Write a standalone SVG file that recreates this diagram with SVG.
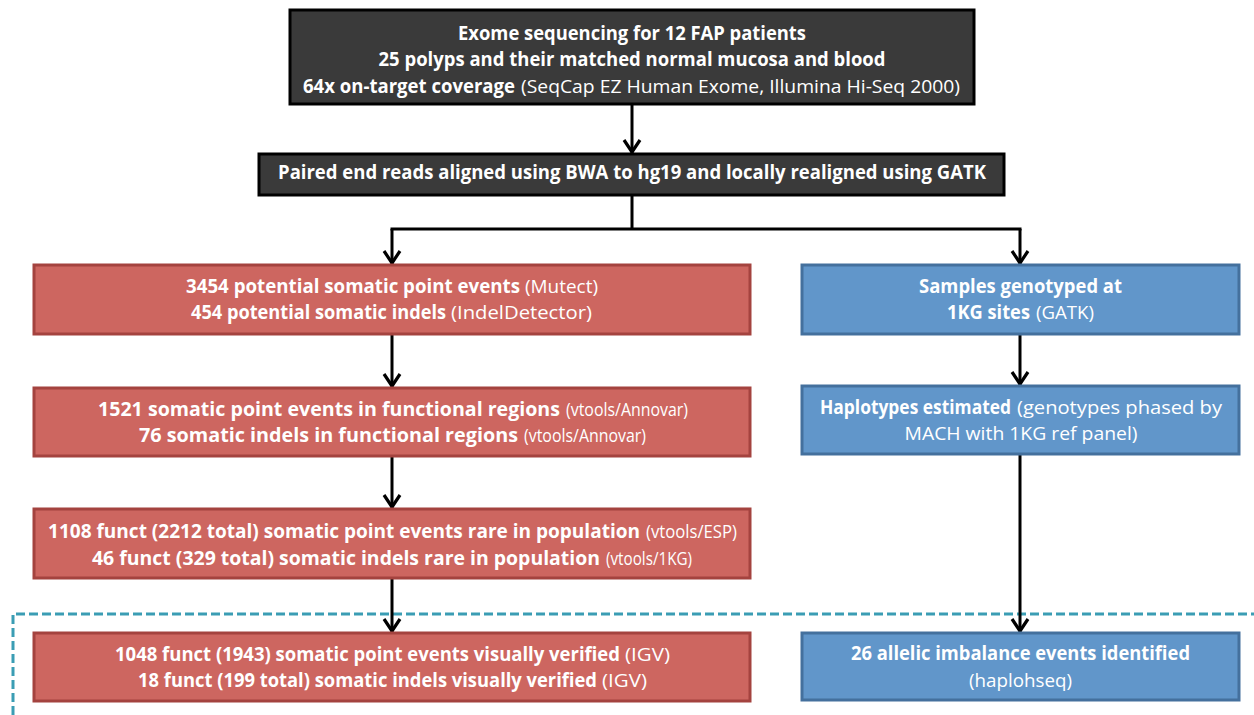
<svg xmlns="http://www.w3.org/2000/svg" width="1254" height="715" viewBox="0 0 1254 715">
  <defs>
    <!-- open chevron arrowhead; marker x-axis follows the line direction -->
    <marker id="chev" markerUnits="userSpaceOnUse" markerWidth="22" markerHeight="24" viewBox="-18 -12 22 24" refX="0" refY="0" orient="auto">
      <path d="M-13,-8 L-1,0 L-13,8" fill="none" stroke="#000" stroke-width="3.2" stroke-linejoin="miter"/>
    </marker>
    <style>
      .dark { fill: #3a3a3a; stroke: #000; stroke-width: 3; }
      .red { fill: #cd6660; stroke: #a4433f; stroke-width: 3; }
      .blue { fill: #6196ca; stroke: #44709d; stroke-width: 3; }
      text { font-family: "Open Sans", "Noto Sans", "Liberation Sans", sans-serif; font-size: 19px; fill: #fff; }
      .c { text-anchor: middle; }
      .b { font-weight: 700; }
      .r { font-weight: 400; }
      .wire { fill: none; stroke: #000; stroke-width: 3; }
      .arrow { fill: none; stroke: #000; stroke-width: 3; marker-end: url(#chev); }
      .region { fill: none; stroke: #3b9db4; stroke-width: 3; stroke-dasharray: 9 4; }
    </style>
  </defs>

  <!-- dashed region around the final results -->
  <path class="region" d="M13,715 V614 H1254"/>

  <g id="connectors">
    <line class="arrow" x1="632" y1="105" x2="632" y2="153"/>
    <path class="wire" d="M632,195 V229 M390.5,229 H1021.5"/>
    <line class="arrow" x1="392" y1="229" x2="392" y2="264"/>
    <line class="arrow" x1="1020" y1="229" x2="1020" y2="264"/>
    <line class="arrow" x1="392" y1="334" x2="392" y2="387"/>
    <line class="arrow" x1="392" y1="456" x2="392" y2="508"/>
    <line class="arrow" x1="392" y1="579" x2="392" y2="632"/>
    <line class="arrow" x1="1020" y1="334" x2="1020" y2="385"/>
    <line class="arrow" x1="1020" y1="454" x2="1020" y2="632"/>
  </g>

  <g id="sequencing">
    <rect class="dark" x="290" y="10" width="684" height="94"/>
    <text x="632" y="39.5" class="c b" textLength="348" lengthAdjust="spacingAndGlyphs">Exome sequencing for 12 FAP patients</text>
    <text x="632" y="66.3" class="c b" textLength="507" lengthAdjust="spacingAndGlyphs">25 polyps and their matched normal mucosa and blood</text>
    <text x="303" y="93" class="b" textLength="212" lengthAdjust="spacingAndGlyphs">64x on-target coverage</text>
    <text x="521" y="93" class="r" textLength="439" lengthAdjust="spacingAndGlyphs">(SeqCap EZ Human Exome, Illumina Hi-Seq 2000)</text>
  </g>

  <g id="alignment">
    <rect class="dark" x="259" y="154" width="745" height="41"/>
    <text x="632" y="178.5" class="c b" textLength="708" lengthAdjust="spacingAndGlyphs">Paired end reads aligned using BWA to hg19 and locally realigned using GATK</text>
  </g>

  <g id="somatic-calls">
    <rect class="red" x="34" y="265" width="716" height="69"/>
    <text x="186" y="292.5" class="b" textLength="334" lengthAdjust="spacingAndGlyphs">3454 potential somatic point events</text>
    <text x="525" y="292.5" class="r" textLength="73" lengthAdjust="spacingAndGlyphs">(Mutect)</text>
    <text x="191" y="319" class="b" textLength="255" lengthAdjust="spacingAndGlyphs">454 potential somatic indels</text>
    <text x="451" y="319" class="r" textLength="141" lengthAdjust="spacingAndGlyphs">(IndelDetector)</text>
  </g>

  <g id="functional">
    <rect class="red" x="34" y="388" width="716" height="68"/>
    <text x="98" y="415.5" class="b" textLength="462" lengthAdjust="spacingAndGlyphs">1521 somatic point events in functional regions</text>
    <text x="566" y="415.5" class="r" textLength="122" lengthAdjust="spacingAndGlyphs">(vtools/Annovar)</text>
    <text x="139" y="442" class="b" textLength="379" lengthAdjust="spacingAndGlyphs">76 somatic indels in functional regions</text>
    <text x="524" y="442" class="r" textLength="122" lengthAdjust="spacingAndGlyphs">(vtools/Annovar)</text>
  </g>

  <g id="rare">
    <rect class="red" x="34" y="509" width="716" height="69"/>
    <text x="48" y="538" class="b" textLength="592" lengthAdjust="spacingAndGlyphs">1108 funct (2212 total) somatic point events rare in population</text>
    <text x="646" y="538" class="r" textLength="91" lengthAdjust="spacingAndGlyphs">(vtools/ESP)</text>
    <text x="92" y="564.5" class="b" textLength="508" lengthAdjust="spacingAndGlyphs">46 funct (329 total) somatic indels rare in population</text>
    <text x="606" y="564.5" class="r" textLength="86" lengthAdjust="spacingAndGlyphs">(vtools/1KG)</text>
  </g>

  <g id="verified">
    <rect class="red" x="34" y="633" width="716" height="68"/>
    <text x="115" y="660.5" class="b" textLength="505" lengthAdjust="spacingAndGlyphs">1048 funct (1943) somatic point events visually verified</text>
    <text x="625" y="660.5" class="r" textLength="45" lengthAdjust="spacingAndGlyphs">(IGV)</text>
    <text x="138" y="687" class="b" textLength="459" lengthAdjust="spacingAndGlyphs">18 funct (199 total) somatic indels visually verified</text>
    <text x="602" y="687" class="r" textLength="45" lengthAdjust="spacingAndGlyphs">(IGV)</text>
  </g>

  <g id="genotyping">
    <rect class="blue" x="802" y="265" width="437" height="69"/>
    <text x="1020.5" y="292.5" class="c b" textLength="203" lengthAdjust="spacingAndGlyphs">Samples genotyped at</text>
    <text x="947" y="319" class="b" textLength="83" lengthAdjust="spacingAndGlyphs">1KG sites</text>
    <text x="1036" y="319" class="r" textLength="58" lengthAdjust="spacingAndGlyphs">(GATK)</text>
  </g>

  <g id="haplotypes">
    <rect class="blue" x="802" y="386" width="437" height="68"/>
    <text x="820" y="413.5" class="b" textLength="191" lengthAdjust="spacingAndGlyphs">Haplotypes estimated</text>
    <text x="1017" y="413.5" class="r" textLength="205" lengthAdjust="spacingAndGlyphs">(genotypes phased by</text>
    <text x="1021" y="440" class="c r" textLength="233" lengthAdjust="spacingAndGlyphs">MACH with 1KG ref panel)</text>
  </g>

  <g id="imbalance">
    <rect class="blue" x="802" y="633" width="437" height="67"/>
    <text x="1020.5" y="660" class="c b" textLength="339" lengthAdjust="spacingAndGlyphs">26 allelic imbalance events identified</text>
    <text x="1020.5" y="686.5" class="c r" textLength="103" lengthAdjust="spacingAndGlyphs">(haplohseq)</text>
  </g>
</svg>
